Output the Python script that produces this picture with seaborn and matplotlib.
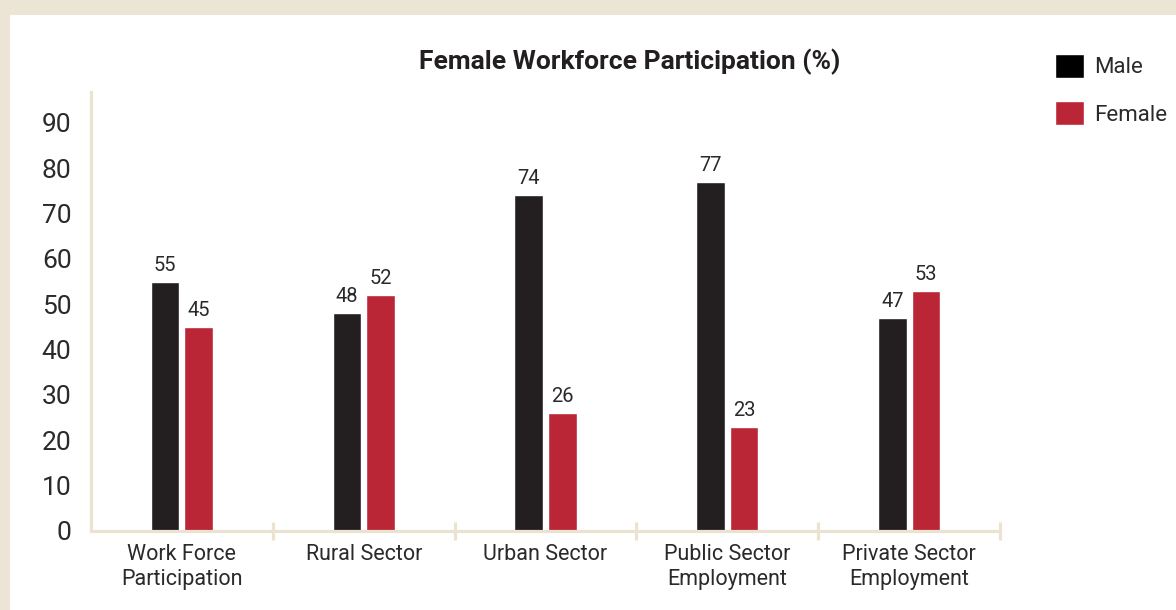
import pandas as pd
import numpy as np
from matplotlib import pyplot as plt
from matplotlib.patches import Rectangle, Patch
import seaborn as sns

sns.set_style('white')
plt.rcParams['font.family'] = ['Roboto', 'DejaVu Sans']

categories = ['Work Force\nParticipation', 'Rural Sector', 'Urban Sector',
              'Public Sector\nEmployment', 'Private Sector\nEmployment']
male = [55, 48, 74, 77, 47]
female = [45, 52, 26, 23, 53]
yticks = [0, 10, 20, 30, 40, 50, 60, 70, 80, 90]

df = pd.DataFrame({'category': categories * 2,
                   'value': male + female,
                   'sex': ['Male'] * 5 + ['Female'] * 5})

beige = '#ece4d5'
axis_col = '#ebe2cf'
text_col = '#2b2a2b'
palette = {'Male': '#231f20', 'Female': '#bb2637'}

fig = plt.figure(figsize=(11.76, 6.1), dpi=100)
fig.patch.set_facecolor(beige)
fig.add_artist(Rectangle((10 / 1176, 0), 1, 595 / 610, transform=fig.transFigure,
                         facecolor='white', edgecolor='none', zorder=0))

ax = fig.add_axes([91 / 1176, 79 / 610, 909 / 1176, 439 / 610])
ax.set_facecolor('none')
sns.barplot(data=df, x='category', y='value', hue='sex', palette=palette,
            width=0.37, gap=0.15, saturation=1, legend=False, ax=ax)

for cont in ax.containers:
    ax.bar_label(cont, padding=5, fontsize=14.5, color=text_col)

ax.set_xlim(-0.5, 4.5)
ax.set_ylim(0, 96.8)
ax.set_yticks(yticks)
ax.set_xlabel('')
ax.set_ylabel('')
sns.despine(ax=ax)
for s in ['left', 'bottom']:
    ax.spines[s].set_color(axis_col)
    ax.spines[s].set_linewidth(2.3)
ax.tick_params(axis='y', length=0, labelsize=19, labelcolor=text_col, pad=14)
ax.tick_params(axis='x', which='major', length=0, labelsize=15.5, labelcolor=text_col, pad=9)
ax.set_xticks(np.arange(0.5, 5, 1), minor=True)
ax.tick_params(axis='x', which='minor', bottom=True, direction='inout', length=13,
               width=2.3, color=axis_col)
for lbl in ax.get_xticklabels():
    lbl.set_linespacing(1.3)

fig.text(630 / 1176, 1 - 62 / 610, 'Female Workforce Participation (%)', ha='center',
         va='center', fontsize=19, fontweight='bold', color='#231f20')

handles = [Patch(facecolor='#000000'), Patch(facecolor='#bb2637')]
fig.legend(handles, ['Male', 'Female'], loc='upper left',
           bbox_to_anchor=(1046 / 1176, 1 - 45 / 610), frameon=False,
           fontsize=16, handlelength=1.3, handleheight=1.3, handletextpad=0.45,
           labelspacing=1.02, labelcolor=text_col, borderaxespad=0)

plt.savefig('out.png', dpi=100, facecolor=fig.get_facecolor())
